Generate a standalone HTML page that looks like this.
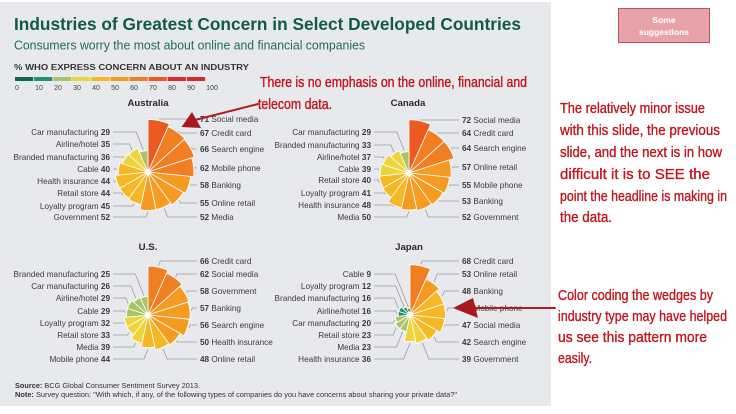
<!DOCTYPE html>
<html><head><meta charset="utf-8">
<style>
html,body{margin:0;padding:0;background:#fff;}
svg{display:block;font-family:"Liberation Sans",sans-serif;}
.l{font-size:8.2px;fill:#3b3b3b;}
.b{font-weight:bold;}
.t{font-size:9.6px;font-weight:bold;fill:#2a2a2a;text-anchor:middle;}
.e{text-anchor:end;}
.h{font-size:15px;fill:#c0141c;stroke:#c0141c;stroke-width:0.35px;}
.lg{font-size:7px;fill:#444;text-anchor:middle;}
</style></head><body>
<svg width="736" height="414" viewBox="0 0 736 414" xmlns="http://www.w3.org/2000/svg">
<rect x="0" y="0" width="736" height="414" fill="#fff"/>
<rect x="0" y="2" width="551" height="404" fill="#e8e9ec"/>

<text x="14" y="30" font-size="17.5" font-weight="bold" fill="#0f5b44" textLength="507" lengthAdjust="spacingAndGlyphs">Industries of Greatest Concern in Select Developed Countries</text>
<text x="14" y="49.5" font-size="13" fill="#1e6d55" textLength="351" lengthAdjust="spacingAndGlyphs">Consumers worry the most about online and financial companies</text>
<text x="14" y="70" font-size="8.6" font-weight="bold" fill="#333" textLength="235" lengthAdjust="spacingAndGlyphs">% WHO EXPRESS CONCERN ABOUT AN INDUSTRY</text>

<g>
<rect x="15" y="77" width="18.2" height="4" fill="#15674b"/>
<rect x="34.1" y="77" width="18.2" height="4" fill="#23926a"/>
<rect x="53.2" y="77" width="18.2" height="4" fill="#a8c566"/>
<rect x="72.3" y="77" width="18.2" height="4" fill="#eed43c"/>
<rect x="91.4" y="77" width="18.2" height="4" fill="#f5b723"/>
<rect x="110.5" y="77" width="18.2" height="4" fill="#f59b21"/>
<rect x="129.6" y="77" width="18.2" height="4" fill="#f07e22"/>
<rect x="148.7" y="77" width="18.2" height="4" fill="#ec5a23"/>
<rect x="167.8" y="77" width="18.2" height="4" fill="#dc2a2d"/>
<rect x="186.9" y="77" width="18.2" height="4" fill="#d42a2d"/>
</g>
<g class="lg">
<text x="17" y="90">0</text><text x="39" y="90">10</text><text x="58" y="90">20</text><text x="77" y="90">30</text><text x="96" y="90">40</text><text x="115" y="90">50</text><text x="134" y="90">60</text><text x="153" y="90">70</text><text x="172" y="90">80</text><text x="191" y="90">90</text><text x="212" y="90">100</text>
</g>

<g id="leaders" fill="none" stroke="#9b9b9b" stroke-width="0.8"></g>
<g id="shapes"></g>

<text class="t" x="148" y="106">Australia</text>
<text class="t" x="408" y="106">Canada</text>
<text class="t" x="148" y="250">U.S.</text>
<text class="t" x="409" y="250">Japan</text>

<!-- Australia -->
<g class="l e">
<text x="110" y="135">Car manufacturing <tspan class="b">29</tspan></text>
<text x="110" y="147">Airline/hotel <tspan class="b">35</tspan></text>
<text x="110" y="160">Branded manufacturing <tspan class="b">36</tspan></text>
<text x="110" y="172">Cable <tspan class="b">40</tspan></text>
<text x="110" y="184">Health insurance <tspan class="b">44</tspan></text>
<text x="110" y="196">Retail store <tspan class="b">44</tspan></text>
<text x="110" y="209">Loyalty program <tspan class="b">45</tspan></text>
<text x="110" y="220">Government <tspan class="b">52</tspan></text>
</g>
<g class="l">
<text x="200" y="122"><tspan class="b">71</tspan> Social media</text>
<text x="200" y="136"><tspan class="b">67</tspan> Credit card</text>
<text x="200" y="152"><tspan class="b">66</tspan> Search engine</text>
<text x="200" y="171"><tspan class="b">62</tspan> Mobile phone</text>
<text x="200" y="188"><tspan class="b">58</tspan> Banking</text>
<text x="200" y="206"><tspan class="b">55</tspan> Online retail</text>
<text x="200" y="220"><tspan class="b">52</tspan> Media</text>
</g>

<!-- Canada -->
<g class="l e">
<text x="371" y="135">Car manufacturing <tspan class="b">29</tspan></text>
<text x="371" y="148">Branded manufacturing <tspan class="b">33</tspan></text>
<text x="371" y="160">Airline/hotel <tspan class="b">37</tspan></text>
<text x="371" y="172">Cable <tspan class="b">39</tspan></text>
<text x="371" y="183">Retail store <tspan class="b">40</tspan></text>
<text x="371" y="196">Loyalty program <tspan class="b">41</tspan></text>
<text x="371" y="208">Health insurance <tspan class="b">48</tspan></text>
<text x="371" y="220">Media <tspan class="b">50</tspan></text>
</g>
<g class="l">
<text x="462" y="123"><tspan class="b">72</tspan> Social media</text>
<text x="462" y="136"><tspan class="b">64</tspan> Credit card</text>
<text x="462" y="151"><tspan class="b">64</tspan> Search engine</text>
<text x="462" y="170"><tspan class="b">57</tspan> Online retail</text>
<text x="462" y="188"><tspan class="b">55</tspan> Mobile phone</text>
<text x="462" y="204"><tspan class="b">53</tspan> Banking</text>
<text x="462" y="220"><tspan class="b">52</tspan> Government</text>
</g>

<!-- U.S. -->
<g class="l e">
<text x="110" y="277">Branded manufacturing <tspan class="b">25</tspan></text>
<text x="110" y="289">Car manufacturing <tspan class="b">26</tspan></text>
<text x="110" y="301">Airline/hotel <tspan class="b">29</tspan></text>
<text x="110" y="314">Cable <tspan class="b">29</tspan></text>
<text x="110" y="326">Loyalty program <tspan class="b">32</tspan></text>
<text x="110" y="338">Retail store <tspan class="b">33</tspan></text>
<text x="110" y="350">Media <tspan class="b">39</tspan></text>
<text x="110" y="362">Mobile phone <tspan class="b">44</tspan></text>
</g>
<g class="l">
<text x="200" y="264"><tspan class="b">66</tspan> Credit card</text>
<text x="200" y="277"><tspan class="b">62</tspan> Social media</text>
<text x="200" y="294"><tspan class="b">58</tspan> Government</text>
<text x="200" y="311"><tspan class="b">57</tspan> Banking</text>
<text x="200" y="328"><tspan class="b">56</tspan> Search engine</text>
<text x="200" y="345"><tspan class="b">50</tspan> Health insurance</text>
<text x="200" y="362"><tspan class="b">48</tspan> Online retail</text>
</g>

<!-- Japan -->
<g class="l e">
<text x="371" y="277">Cable <tspan class="b">9</tspan></text>
<text x="371" y="289">Loyalty program <tspan class="b">12</tspan></text>
<text x="371" y="301">Branded manufacturing <tspan class="b">16</tspan></text>
<text x="371" y="314">Airline/hotel <tspan class="b">16</tspan></text>
<text x="371" y="326">Car manufacturing <tspan class="b">20</tspan></text>
<text x="371" y="338">Retail store <tspan class="b">23</tspan></text>
<text x="371" y="350">Media <tspan class="b">23</tspan></text>
<text x="371" y="362">Health insurance <tspan class="b">36</tspan></text>
</g>
<g class="l">
<text x="462" y="264"><tspan class="b">68</tspan> Credit card</text>
<text x="462" y="277"><tspan class="b">53</tspan> Online retail</text>
<text x="462" y="294"><tspan class="b">48</tspan> Banking</text>
<text x="462" y="311"><tspan class="b">48</tspan> Mobile phone</text>
<text x="462" y="328"><tspan class="b">47</tspan> Social media</text>
<text x="462" y="345"><tspan class="b">42</tspan> Search engine</text>
<text x="462" y="362"><tspan class="b">39</tspan> Government</text>
</g>

<!-- Source -->
<text x="15" y="388" font-size="7" fill="#333" textLength="185" lengthAdjust="spacingAndGlyphs"><tspan font-weight="bold">Source:</tspan> BCG Global Consumer Sentiment Survey 2013.</text>
<text x="15" y="397" font-size="7" fill="#333" textLength="442" lengthAdjust="spacingAndGlyphs"><tspan font-weight="bold">Note:</tspan> Survey question: "With which, if any, of the following types of companies do you have concerns about sharing your private data?"</text>

<!-- Suggestions button -->
<rect x="618.5" y="8.5" width="91" height="34" fill="#e8a3aa" stroke="#c94b57" stroke-width="1"/>
<text x="664" y="23" font-size="8.5" font-weight="bold" fill="#fff" text-anchor="middle">Some</text>
<text x="664" y="35" font-size="8.5" font-weight="bold" fill="#fff" text-anchor="middle">suggestions</text>

<!-- Annotations -->
<text class="h" x="260" y="87" textLength="267" lengthAdjust="spacingAndGlyphs">There is no emphasis on the online, financial and</text>
<text class="h" x="258" y="109" textLength="74" lengthAdjust="spacingAndGlyphs">telecom data.</text>

<text class="h" x="560" y="113" textLength="145" lengthAdjust="spacingAndGlyphs">The relatively minor issue</text>
<text class="h" x="560" y="135" textLength="160" lengthAdjust="spacingAndGlyphs">with this slide, the previous</text>
<text class="h" x="560" y="157" textLength="162" lengthAdjust="spacingAndGlyphs">slide, and the next is in how</text>
<text class="h" x="560" y="179" textLength="150" lengthAdjust="spacingAndGlyphs">difficult it is to SEE the</text>
<text class="h" x="560" y="201" textLength="167" lengthAdjust="spacingAndGlyphs">point the headline is making in</text>
<text class="h" x="560" y="222" textLength="52" lengthAdjust="spacingAndGlyphs">the data.</text>

<text class="h" x="558" y="300" textLength="155" lengthAdjust="spacingAndGlyphs">Color coding the wedges by</text>
<text class="h" x="558" y="321" textLength="169" lengthAdjust="spacingAndGlyphs">industry type may have helped</text>
<text class="h" x="558" y="342" textLength="149" lengthAdjust="spacingAndGlyphs">us see this pattern more</text>
<text class="h" x="558" y="363" textLength="34" lengthAdjust="spacingAndGlyphs">easily.</text>

<!-- Arrows -->
<line x1="195" y1="120" x2="258" y2="104" stroke="#b01a20" stroke-width="2" stroke-linecap="round"/>
<polygon points="192,112 181.5,127 201,128" fill="#a8181d"/>
<line x1="460" y1="308" x2="555" y2="308" stroke="#b01a20" stroke-width="2" stroke-linecap="round"/>
<polygon points="453,308 473,298 478,318" fill="#a8181d"/>
</svg>
<script>
(function(){
var NS='http://www.w3.org/2000/svg';
var g=document.getElementById('shapes'), L=document.getElementById('leaders');
var C=['#15674b','#23926a','#a8c566','#eed43c','#f5b723','#f59b21','#f07e22','#ec5a23','#dc2a2d','#d42a2d'];
var K=0.74;
var charts=[
 {cx:148,cy:172,vals:[71,67,66,62,58,55,52,52,45,44,44,40,36,35,29],ry:[119,133,149,168,185,203,217],ly:[217,206,193,181,169,157,144,132],rx:197,lx:113},
 {cx:409,cy:173,vals:[72,64,64,57,55,53,52,50,48,41,40,39,37,33,29],ry:[120,133,148,167,185,201,217],ly:[217,205,193,180,169,157,145,132],rx:459,lx:374},
 {cx:148,cy:315,vals:[66,62,58,57,56,50,48,44,39,33,32,29,29,26,25],ry:[261,274,291,308,325,342,359],ly:[359,347,335,323,311,298,286,274],rx:197,lx:113},
 {cx:410,cy:315,vals:[68,53,48,48,47,42,39,36,23,23,20,16,16,12,9],ry:[261,274,291,308,325,342,359],ly:[359,347,335,323,311,298,286,274],rx:459,lx:374}
];
function pt(cx,cy,a,r){var t=a*Math.PI/180;return [cx+r*Math.sin(t),cy-r*Math.cos(t)];}
function f(n){return n.toFixed(2);}
charts.forEach(function(c){
 c.vals.forEach(function(v,i){
  var r=v*K,a0=i*24,a1=(i+1)*24;
  var p0=pt(c.cx,c.cy,a0,r),p1=pt(c.cx,c.cy,a1,r);
  var p=document.createElementNS(NS,'path');
  p.setAttribute('d','M'+c.cx+','+c.cy+'L'+f(p0[0])+','+f(p0[1])+'A'+f(r)+','+f(r)+' 0 0 1 '+f(p1[0])+','+f(p1[1])+'Z');
  p.setAttribute('fill',C[Math.min(9,Math.floor(v/10))]);
  p.setAttribute('stroke','#fff');p.setAttribute('stroke-width','0.8');p.setAttribute('stroke-linejoin','round');
  g.appendChild(p);
  var m=(i+0.5)*24, ap=pt(c.cx,c.cy,m,r+1.5), ly, ex, endx;
  if(i<7){ly=c.ry[i];endx=c.rx;ex=Math.min(endx-2,ap[0]+Math.abs(ly-ap[1])*0.4);if(ex<ap[0])ex=ap[0];}
  else{ly=c.ly[i-7];endx=c.lx;ex=Math.max(endx+2,ap[0]-Math.abs(ly-ap[1])*0.4);if(ex>ap[0])ex=ap[0];}
  var pl=document.createElementNS(NS,'polyline');
  pl.setAttribute('points',f(ap[0])+','+f(ap[1])+' '+f(ex)+','+ly+' '+endx+','+ly);
  L.appendChild(pl);
 });
 var ci=document.createElementNS(NS,'circle');
 ci.setAttribute('cx',c.cx);ci.setAttribute('cy',c.cy);ci.setAttribute('r','3.2');
 ci.setAttribute('fill','#fff');ci.setAttribute('opacity','0.85');
 g.appendChild(ci);
});
// avoid glyph stretching on annotation lines shorter than target
var hs=document.querySelectorAll('text.h');
for(var k=0;k<hs.length;k++){
 var t=hs[k], tl=parseFloat(t.getAttribute('textLength'));
 t.removeAttribute('textLength');
 var nat=0; try{nat=t.getComputedTextLength();}catch(e){}
 t.setAttribute('textLength',tl);
 if(nat && nat<tl){t.setAttribute('lengthAdjust','spacing');}
}
})();
</script>
</body></html>
